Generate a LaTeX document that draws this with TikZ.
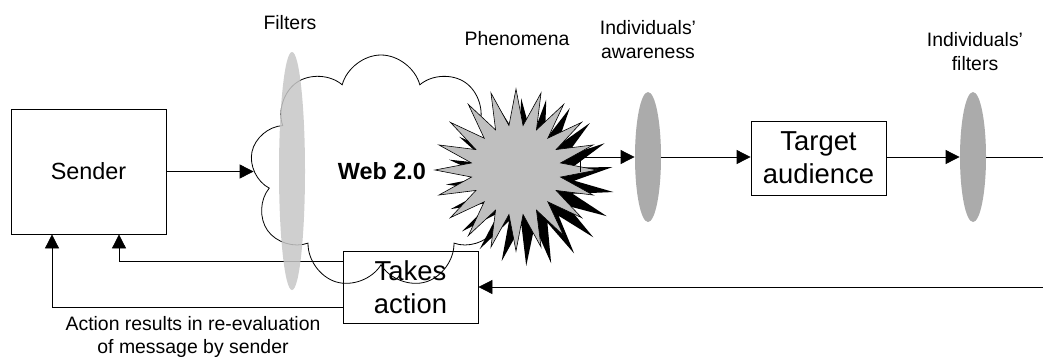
\documentclass[tikz,border=0pt]{standalone}
\usepackage{fontspec}
\setmainfont{Liberation Sans}
\usetikzlibrary{shapes,arrows.meta,positioning,calc}
\tikzset{
  box/.style={draw, align=center, inner sep=0pt},
  lens/.style={ellipse, fill=black!33, minimum width=26bp, inner sep=0pt},
  arr/.style={-{Triangle[length=14bp,width=14bp]}},
  lbl/.style={align=center, font=\fontsize{19.5}{24}\selectfont},
  big/.style={font=\fontsize{27.5}{33}\selectfont},
}

\begin{document}
\begin{tikzpicture}[x=1bp, y=-1bp, line width=0.8bp]
    \useasboundingbox (0,0) rectangle (1043,361);
    % sender, web and filters
    \node[box, minimum width=155bp, minimum height=125bp, font=\fontsize{23.5}{28}\selectfont] (sender) at (88.5,171.5) {Sender};
    \node[cloud, cloud puffs=9, aspect=1.1, draw, minimum width=262bp, minimum height=234bp] (web) at (381,172) {};
    \node[font=\bfseries\fontsize{23.5}{28}\selectfont] (webtxt) at (382,171) {Web 2.0};
    \node[box, big, minimum width=135bp, minimum height=72bp] (takes) at (410.5,287) {Takes\\action};
    \draw[arr] ([yshift=26bp]takes.west) -| ([xshift=30.5bp]sender.south);
    \draw[arr] ([yshift=-20bp]takes.west) -| ([xshift=-36.5bp]sender.south);
    \node[lens, fill=black!22, opacity=.85, minimum height=238bp] (filt) at (292,171) {};
    \draw[arr] (sender.east) -- (sender.east -| web.west);
    \node[lbl] (filtlbl) at (290,23) {Filters};
    % phenomena
    \node[star, star points=21, star point ratio=1.9, minimum size=168bp, fill=black, rotate=6] (shadow) at (530,182) {};
    \node[star, star points=20, star point ratio=1.8, minimum size=162bp, fill=black!25, draw, line width=0.6bp] (burst) at (516,170) {};
    \node[lbl] (burstlbl) at (517,39) {Phenomena};
    % audience
    \node[lens, minimum height=130bp] (aware) at (648,157) {};
    \node[lbl] (awarelbl) at (648,39.5) {Individuals’\\awareness};
    \node[box, big, minimum width=135bp, minimum height=74bp] (target) at (818.5,158) {Target\\audience};
    \node[lens, minimum height=130bp] (ifilt) at (973,157) {};
    \node[lbl] (ifiltlbl) at (975,51.5) {Individuals’\\filters};
    \coordinate (out) at (580,172);
    \coordinate (rend) at (1043,157);
    \coordinate (ret) at (1043,287);
    \draw[arr] (out) |- (aware.west);
    \draw[arr] (aware.east) -- (target.west |- aware.east);
    \draw[arr] (target.east |- ifilt.west) -- (ifilt.west);
    \draw (ifilt.east) -- (rend);
    \draw[arr] (ret) -- (takes.east);
    \node[lbl] (note) at (193,337) {Action results in re-evaluation\\of message by sender};
\end{tikzpicture}
\end{document}
